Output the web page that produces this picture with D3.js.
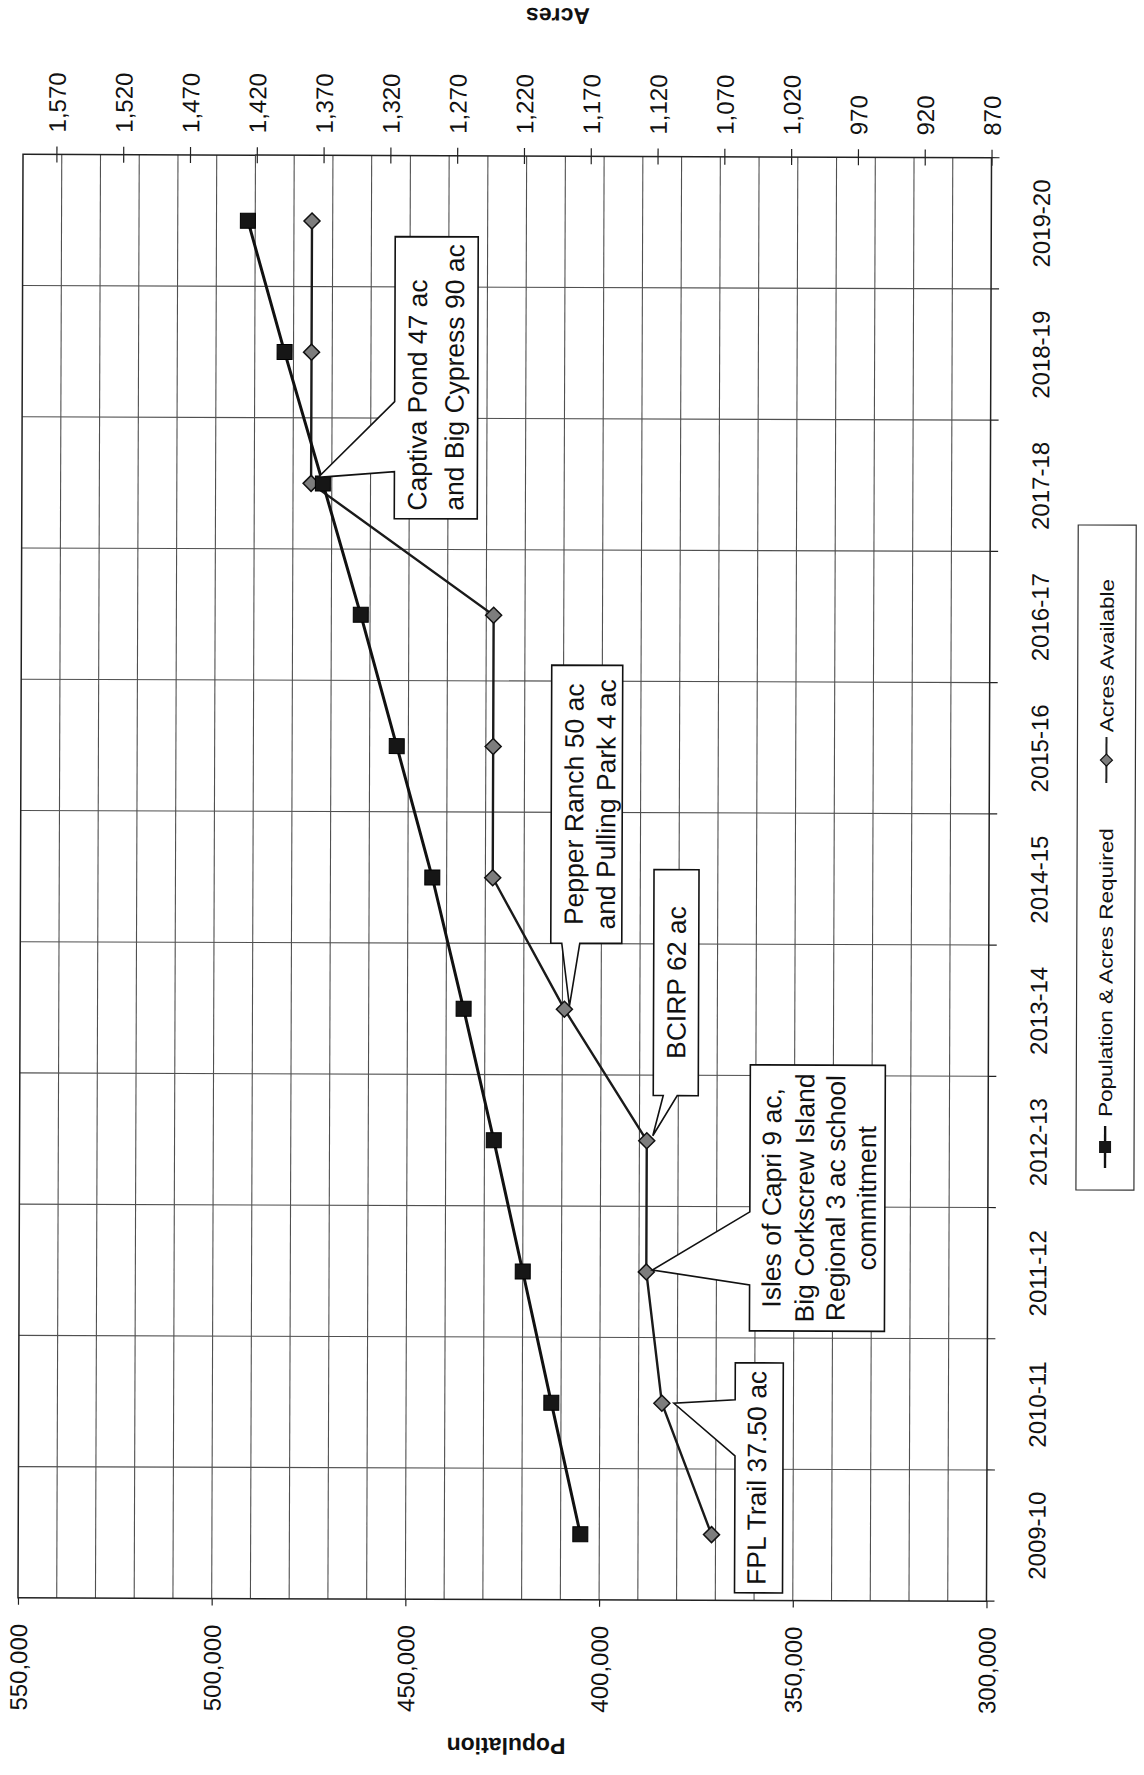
<!DOCTYPE html>
<html>
<head>
<meta charset="utf-8">
<script src="https://cdn.jsdelivr.net/npm/d3@7"></script>
<style>
  html, body { margin: 0; padding: 0; background: #fff; }
  svg { display: block; font-family: "Liberation Sans", Arial, sans-serif; }
</style>
</head>
<body>
<svg id="chart" width="1144" height="1775"></svg>
<script>
// ---- data ----
const seasons = ["2009-10", "2010-11", "2011-12", "2012-13", "2013-14", "2014-15",
                 "2015-16", "2016-17", "2017-18", "2018-19", "2019-20"];
const population = [404900, 412500, 420000, 427600, 435500, 443700,
                    453000, 462400, 472300, 482300, 491900];
const acresAvailable = [1076, 1113.5, 1125.5, 1125.5, 1187.5, 1241.5,
                        1241.5, 1241.5, 1378.5, 1378.5, 1378.5];
const populationTicks = [550000, 500000, 450000, 400000, 350000, 300000];
const acreTicks = [1570, 1520, 1470, 1420, 1370, 1320, 1270, 1220, 1170, 1120, 1070, 1020, 970, 920, 870];
const seriesNames = ["Population & Acres Required", "Acres Available"];
const acquisitions = [
  { season: "2017-18", lines: ["Captiva Pond 47 ac", "and Big Cypress 90 ac"] },
  { season: "2013-14", lines: ["Pepper Ranch 50 ac", "and Pulling Park 4 ac"] },
  { season: "2012-13", lines: ["BCIRP 62 ac"] },
  { season: "2011-12", lines: ["Isles of Capri 9 ac,", "Big Corkscrew Island", "Regional 3 ac school", "commitment"] },
  { season: "2010-11", lines: ["FPL Trail 37.50 ac"] }
];

// ---- layout ----
const frame = { left: 20.5, right: 989, top: 156, bottom: 1599.5 };
const calloutLayout = [
  { box: [393, 237, 83, 282], side: "left",   wedge: [402, 472],   tip: [7, -6], align: "start",  baselines: [425, 462] },
  { box: [551, 665, 71, 278], side: "bottom", wedge: [562, 580],   tip: [5, -3], align: "middle", baselines: [583, 615] },
  { box: [654, 869, 45, 226], side: "bottom", wedge: [664, 678],   tip: [6, -5], align: "middle", baselines: [686] },
  { box: [751, 1064, 135, 266], side: "left", wedge: [1211, 1284], tip: [6, -2], align: "middle", baselines: [782, 815, 846, 877] },
  { box: [737, 1362, 48, 230], side: "left",  wedge: [1399, 1455], tip: [12, 0], align: "middle", baselines: [768] }
];
const tickFont = 24;

const svg = d3.select("#chart");
const g = svg.append("g").attr("transform", "rotate(0.2 504 878)");

// categories run bottom-to-top, values grow leftward
const y = d3.scaleBand().domain(seasons.slice().reverse()).range([frame.top, frame.bottom]);
const cy = s => y(s) + y.bandwidth() / 2;
const xPop = d3.scaleLinear().domain([300000, 550000]).range([frame.right, frame.left]);
const xAcres = d3.scaleLinear().domain([870, 1595]).range([frame.right, frame.left]);

// ---- gridlines ----
const grid = g.append("g").attr("stroke", "#505050").attr("stroke-width", 1.1);
grid.selectAll("line.v").data(d3.range(310000, 550000, 10000)).join("line")
  .attr("x1", d => xPop(d)).attr("x2", d => xPop(d))
  .attr("y1", frame.top).attr("y2", frame.bottom);
const boundaries = seasons.map(s => y(s)).filter(v => v > frame.top + 1);
grid.selectAll("line.h").data(boundaries).join("line")
  .attr("x1", frame.left).attr("x2", frame.right)
  .attr("y1", d => d).attr("y2", d => d);

// boundary tick marks on the category side
g.append("g").attr("stroke", "#222").attr("stroke-width", 1.2)
  .selectAll("line").data(seasons.map(s => y(s)).concat([frame.bottom])).join("line")
  .attr("x1", frame.right).attr("x2", frame.right + 8)
  .attr("y1", d => d).attr("y2", d => d);

// ---- population axis (bottom) ----
const popAxis = g.append("g").attr("transform", `translate(0,${frame.bottom})`)
  .call(d3.axisBottom(xPop).tickValues(populationTicks).tickFormat(d3.format(",")).tickSize(7));
popAxis.select(".domain").remove();
popAxis.selectAll(".tick line").attr("stroke", "#222").attr("stroke-width", 1.2);
popAxis.selectAll(".tick text")
  .attr("transform", "rotate(-90)")
  .attr("x", -26).attr("y", 0).attr("dy", "0.36em")
  .attr("text-anchor", "end")
  .attr("font-size", tickFont).attr("fill", "#111")
  .attr("font-family", "Liberation Sans, Arial, sans-serif");

// ---- acres axis (top) ----
const acreAxis = g.append("g").attr("transform", `translate(0,${frame.top})`)
  .call(d3.axisTop(xAcres).tickValues(acreTicks).tickFormat(d3.format(",")).tickSize(8));
acreAxis.select(".domain").remove();
acreAxis.selectAll(".tick line").attr("y1", 8).attr("y2", -8).attr("stroke", "#222").attr("stroke-width", 1.2);
acreAxis.selectAll(".tick text")
  .attr("transform", "rotate(-90)")
  .attr("x", 22).attr("y", 0).attr("dy", "0.36em")
  .attr("text-anchor", "start")
  .attr("font-size", tickFont).attr("fill", "#111")
  .attr("font-family", "Liberation Sans, Arial, sans-serif");

// ---- category axis (right) ----
const catAxis = g.append("g").attr("transform", `translate(${frame.right},0)`)
  .call(d3.axisRight(y).tickSize(0));
catAxis.select(".domain").remove();
catAxis.selectAll(".tick text")
  .attr("transform", "rotate(-90)")
  .attr("x", 0).attr("y", 50).attr("dy", "0.36em")
  .attr("text-anchor", "middle")
  .attr("font-size", tickFont).attr("fill", "#111")
  .attr("font-family", "Liberation Sans, Arial, sans-serif");

// ---- plot frame ----
g.append("rect")
  .attr("x", frame.left).attr("y", frame.top)
  .attr("width", frame.right - frame.left).attr("height", frame.bottom - frame.top)
  .attr("fill", "none").attr("stroke", "#222").attr("stroke-width", 1.5);

// ---- axis titles (upside down) ----
g.append("text").text("Population")
  .attr("transform", "translate(509,1746) rotate(180)")
  .attr("text-anchor", "middle").attr("dy", "0.35em")
  .attr("font-size", 23).attr("font-weight", "bold").attr("fill", "#111");
g.append("text").text("Acres")
  .attr("transform", "translate(555,16) rotate(180)")
  .attr("text-anchor", "middle").attr("dy", "0.35em")
  .attr("font-size", 23).attr("font-weight", "bold").attr("fill", "#111");

// ---- series ----
const popPts = seasons.map((s, i) => [xPop(population[i]), cy(s)]);
const acrePts = seasons.map((s, i) => [xAcres(acresAvailable[i]), cy(s)]);
const line = d3.line();

g.append("path").attr("d", line(acrePts))
  .attr("fill", "none").attr("stroke", "#1a1a1a").attr("stroke-width", 2.4);
g.append("path").attr("d", line(popPts))
  .attr("fill", "none").attr("stroke", "#111").attr("stroke-width", 3);

const diamond = r => `M0,${-r}L${r},0L0,${r}L${-r},0Z`;
g.append("g").selectAll("path").data(acrePts).join("path")
  .attr("transform", d => `translate(${d[0]},${d[1]})`)
  .attr("d", diamond(8))
  .attr("fill", "#7d7d7d").attr("stroke", "#111").attr("stroke-width", 1.5);
g.append("g").selectAll("rect").data(popPts).join("rect")
  .attr("x", d => d[0] - 7.5).attr("y", d => d[1] - 7.5)
  .attr("width", 15).attr("height", 15)
  .attr("fill", "#161616").attr("stroke", "#000").attr("stroke-width", 1);

// ---- acquisition callouts ----
acquisitions.forEach((a, i) => {
  const L = calloutLayout[i];
  const k = seasons.indexOf(a.season);
  const tx = xAcres(acresAvailable[k]) + L.tip[0];
  const ty = cy(a.season) + L.tip[1];
  const [bx, by, bw, bh] = L.box;
  let d;
  if (L.side === "left") {
    d = `M${bx},${by}L${bx + bw},${by}L${bx + bw},${by + bh}L${bx},${by + bh}` +
        `L${bx},${L.wedge[1]}L${tx},${ty}L${bx},${L.wedge[0]}Z`;
  } else {
    d = `M${bx},${by}L${bx + bw},${by}L${bx + bw},${by + bh}L${L.wedge[1]},${by + bh}` +
        `L${tx},${ty}L${L.wedge[0]},${by + bh}L${bx},${by + bh}Z`;
  }
  g.append("path").attr("d", d)
    .attr("fill", "#fff").attr("stroke", "#111").attr("stroke-width", 1.6)
    .attr("stroke-linejoin", "miter");
  const anchorY = L.align === "start" ? by + bh - 8 : by + bh / 2;
  a.lines.forEach((t, j) => {
    g.append("text").text(t)
      .attr("transform", `translate(${L.baselines[j]},${anchorY}) rotate(-90)`)
      .attr("text-anchor", L.align)
      .attr("font-size", 26.5).attr("fill", "#111");
  });
});

// ---- legend ----
const legend = g.append("g");
legend.append("rect").attr("x", 1077).attr("y", 523).attr("width", 58).attr("height", 665)
  .attr("fill", "#fff").attr("stroke", "#333").attr("stroke-width", 1.2);
const lx = 1106;
// population entry
legend.append("line").attr("x1", lx).attr("x2", lx).attr("y1", 1166).attr("y2", 1124)
  .attr("stroke", "#111").attr("stroke-width", 2.4);
legend.append("rect").attr("x", lx - 6).attr("y", 1139).attr("width", 12).attr("height", 12)
  .attr("fill", "#161616");
legend.append("text").text(seriesNames[0])
  .attr("transform", `translate(${lx},1115) rotate(-90)`)
  .attr("dy", "0.36em").attr("font-size", 19)
  .attr("textLength", 289).attr("lengthAdjust", "spacingAndGlyphs").attr("fill", "#111");
// acres entry
legend.append("line").attr("x1", lx).attr("x2", lx).attr("y1", 781).attr("y2", 735)
  .attr("stroke", "#222").attr("stroke-width", 2);
legend.append("path").attr("transform", `translate(${lx},758)`).attr("d", diamond(6))
  .attr("fill", "#7d7d7d").attr("stroke", "#111").attr("stroke-width", 1.2);
legend.append("text").text(seriesNames[1])
  .attr("transform", `translate(${lx},730) rotate(-90)`)
  .attr("dy", "0.36em").attr("font-size", 19)
  .attr("textLength", 153).attr("lengthAdjust", "spacingAndGlyphs").attr("fill", "#111");
</script>
</body>
</html>
